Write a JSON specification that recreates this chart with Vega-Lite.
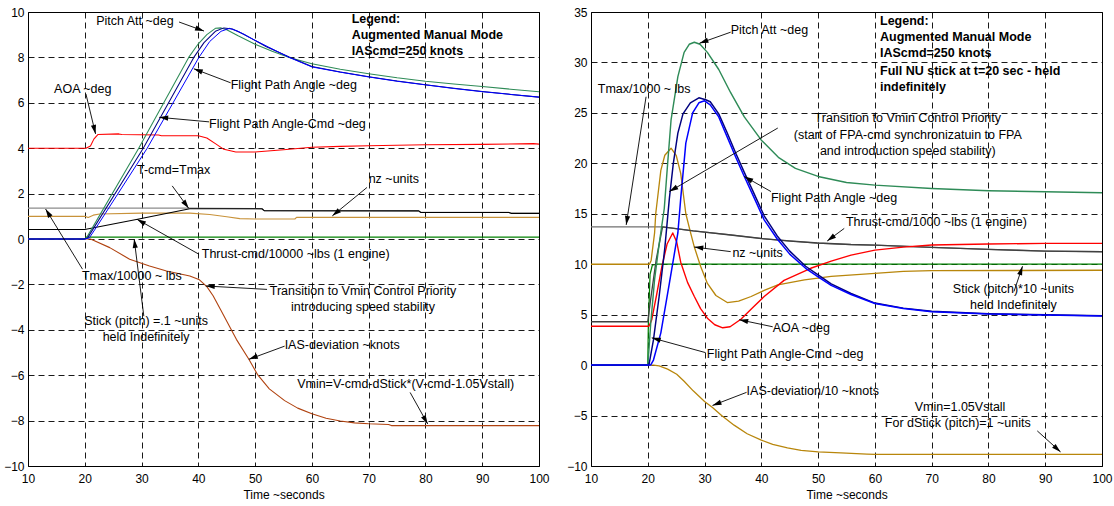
{
"$schema":"https://vega.github.io/schema/vega-lite/v6.json",
"padding":{"left":3,"top":5,"right":2,"bottom":2},
"spacing":16,
"config":{"font":"Liberation Sans","view":{"stroke":"black","strokeWidth":1},
"axis":{"grid":true,"gridColor":"black","gridDash":[6,4],"gridOpacity":1,"gridWidth":0.9,"domain":false,"ticks":false,"labelFontSize":12,"labelColor":"black","labelFont":"Liberation Sans","titleFont":"Liberation Sans","titleFontSize":12,"titleFontWeight":"normal","titleColor":"black","labelPadding":4,"labelOverlap":false,"labelFlush":false,"titlePadding":5},
"axisX":{"labelPadding":7}},
"resolve":{"scale":{"color":"independent","strokeWidth":"independent"}},
"datasets":{
"lines":[
{"p":"L","s":"a Tmax","t":10,"v":1.36},{"p":"L","s":"a Tmax","t":38.5,"v":1.36},{"p":"L","s":"a Tmax","t":50,"v":1.34},{"p":"L","s":"a Tmax","t":51.2,"v":1.33},{"p":"L","s":"a Tmax","t":51.6,"v":1.25},{"p":"L","s":"a Tmax","t":78.8,"v":1.24},{"p":"L","s":"a Tmax","t":79.2,"v":1.17},{"p":"L","s":"a Tmax","t":94.7,"v":1.17},{"p":"L","s":"a Tmax","t":95.1,"v":1.13},{"p":"L","s":"a Tmax","t":100,"v":1.13},
{"p":"L","s":"b Stick","t":10,"v":0},{"p":"L","s":"b Stick","t":20,"v":0},{"p":"L","s":"b Stick","t":20.3,"v":0.08},{"p":"L","s":"b Stick","t":100,"v":0.08},
{"p":"L","s":"c nz","t":10,"v":1.0},{"p":"L","s":"c nz","t":20,"v":1.0},{"p":"L","s":"c nz","t":20.6,"v":0.95},{"p":"L","s":"c nz","t":21.5,"v":1.05},{"p":"L","s":"c nz","t":22.6,"v":1.1},{"p":"L","s":"c nz","t":30,"v":1.14},{"p":"L","s":"c nz","t":38.5,"v":1.14},{"p":"L","s":"c nz","t":42,"v":1.08},{"p":"L","s":"c nz","t":45,"v":0.98},{"p":"L","s":"c nz","t":47.3,"v":0.9},{"p":"L","s":"c nz","t":50,"v":0.88},{"p":"L","s":"c nz","t":57,"v":0.88},{"p":"L","s":"c nz","t":57.3,"v":0.95},{"p":"L","s":"c nz","t":100,"v":0.95},
{"p":"L","s":"d Thrust","t":10,"v":0.42},{"p":"L","s":"d Thrust","t":20,"v":0.42},{"p":"L","s":"d Thrust","t":29.3,"v":0.87},{"p":"L","s":"d Thrust","t":38.5,"v":1.33},{"p":"L","s":"d Thrust","t":51.2,"v":1.33},{"p":"L","s":"d Thrust","t":51.6,"v":1.25},{"p":"L","s":"d Thrust","t":78.8,"v":1.24},{"p":"L","s":"d Thrust","t":79.2,"v":1.17},{"p":"L","s":"d Thrust","t":94.7,"v":1.17},{"p":"L","s":"d Thrust","t":95.1,"v":1.13},{"p":"L","s":"d Thrust","t":100,"v":1.13},
{"p":"L","s":"e IAS","t":10,"v":0},{"p":"L","s":"e IAS","t":21,"v":0},{"p":"L","s":"e IAS","t":21.7,"v":-0.08},{"p":"L","s":"e IAS","t":24.4,"v":-0.38},{"p":"L","s":"e IAS","t":27.9,"v":-0.89},{"p":"L","s":"e IAS","t":31.4,"v":-1.19},{"p":"L","s":"e IAS","t":34.4,"v":-1.41},{"p":"L","s":"e IAS","t":38.5,"v":-1.63},{"p":"L","s":"e IAS","t":40.2,"v":-1.8},{"p":"L","s":"e IAS","t":41.5,"v":-2.1},{"p":"L","s":"e IAS","t":42.6,"v":-2.5},{"p":"L","s":"e IAS","t":44,"v":-3.15},{"p":"L","s":"e IAS","t":45.5,"v":-3.85},{"p":"L","s":"e IAS","t":46.7,"v":-4.42},{"p":"L","s":"e IAS","t":48.9,"v":-5.3},{"p":"L","s":"e IAS","t":50.5,"v":-6.0},{"p":"L","s":"e IAS","t":52.5,"v":-6.6},{"p":"L","s":"e IAS","t":55.2,"v":-7.12},{"p":"L","s":"e IAS","t":57.5,"v":-7.45},{"p":"L","s":"e IAS","t":60,"v":-7.7},{"p":"L","s":"e IAS","t":62.5,"v":-7.9},{"p":"L","s":"e IAS","t":65,"v":-8.02},{"p":"L","s":"e IAS","t":67.5,"v":-8.1},{"p":"L","s":"e IAS","t":70,"v":-8.14},{"p":"L","s":"e IAS","t":73.5,"v":-8.17},{"p":"L","s":"e IAS","t":74,"v":-8.22},{"p":"L","s":"e IAS","t":100,"v":-8.22},
{"p":"L","s":"f AOA","t":10,"v":4.0},{"p":"L","s":"f AOA","t":20.2,"v":4.0},{"p":"L","s":"f AOA","t":21,"v":4.1},{"p":"L","s":"f AOA","t":21.6,"v":4.4},{"p":"L","s":"f AOA","t":22.3,"v":4.6},{"p":"L","s":"f AOA","t":26,"v":4.63},{"p":"L","s":"f AOA","t":26.5,"v":4.6},{"p":"L","s":"f AOA","t":33,"v":4.58},{"p":"L","s":"f AOA","t":33.5,"v":4.55},{"p":"L","s":"f AOA","t":40,"v":4.55},{"p":"L","s":"f AOA","t":41.5,"v":4.45},{"p":"L","s":"f AOA","t":43,"v":4.2},{"p":"L","s":"f AOA","t":44.5,"v":3.95},{"p":"L","s":"f AOA","t":46.6,"v":3.83},{"p":"L","s":"f AOA","t":50,"v":3.83},{"p":"L","s":"f AOA","t":55,"v":3.93},{"p":"L","s":"f AOA","t":60,"v":4.04},{"p":"L","s":"f AOA","t":65,"v":4.08},{"p":"L","s":"f AOA","t":70,"v":4.11},{"p":"L","s":"f AOA","t":75,"v":4.13},{"p":"L","s":"f AOA","t":80,"v":4.15},{"p":"L","s":"f AOA","t":90,"v":4.17},{"p":"L","s":"f AOA","t":99,"v":4.2},{"p":"L","s":"f AOA","t":100,"v":4.18},
{"p":"L","s":"g Pitch","t":10,"v":0},{"p":"L","s":"g Pitch","t":20,"v":0},{"p":"L","s":"g Pitch","t":20.3,"v":0.05},{"p":"L","s":"g Pitch","t":29.5,"v":4.0},{"p":"L","s":"g Pitch","t":38.3,"v":8.0},{"p":"L","s":"g Pitch","t":40,"v":8.6},{"p":"L","s":"g Pitch","t":41.5,"v":9.0},{"p":"L","s":"g Pitch","t":43,"v":9.28},{"p":"L","s":"g Pitch","t":44,"v":9.3},{"p":"L","s":"g Pitch","t":45,"v":9.22},{"p":"L","s":"g Pitch","t":47,"v":8.95},{"p":"L","s":"g Pitch","t":50,"v":8.58},{"p":"L","s":"g Pitch","t":53,"v":8.27},{"p":"L","s":"g Pitch","t":56,"v":8.0},{"p":"L","s":"g Pitch","t":60,"v":7.72},{"p":"L","s":"g Pitch","t":65,"v":7.48},{"p":"L","s":"g Pitch","t":70,"v":7.28},{"p":"L","s":"g Pitch","t":75,"v":7.1},{"p":"L","s":"g Pitch","t":80,"v":6.95},{"p":"L","s":"g Pitch","t":85,"v":6.83},{"p":"L","s":"g Pitch","t":90,"v":6.72},{"p":"L","s":"g Pitch","t":95,"v":6.6},{"p":"L","s":"g Pitch","t":100,"v":6.49},
{"p":"L","s":"h FPAcmd","t":10,"v":0},{"p":"L","s":"h FPAcmd","t":20,"v":0},{"p":"L","s":"h FPAcmd","t":20.5,"v":0.05},{"p":"L","s":"h FPAcmd","t":30.3,"v":4.0},{"p":"L","s":"h FPAcmd","t":39.2,"v":8.0},{"p":"L","s":"h FPAcmd","t":41,"v":8.65},{"p":"L","s":"h FPAcmd","t":43,"v":9.15},{"p":"L","s":"h FPAcmd","t":44.5,"v":9.3},{"p":"L","s":"h FPAcmd","t":46,"v":9.25},{"p":"L","s":"h FPAcmd","t":48,"v":9.02},{"p":"L","s":"h FPAcmd","t":52,"v":8.47},{"p":"L","s":"h FPAcmd","t":56,"v":8.02},{"p":"L","s":"h FPAcmd","t":60,"v":7.6},{"p":"L","s":"h FPAcmd","t":65,"v":7.36},{"p":"L","s":"h FPAcmd","t":70,"v":7.15},{"p":"L","s":"h FPAcmd","t":75,"v":6.96},{"p":"L","s":"h FPAcmd","t":80,"v":6.8},{"p":"L","s":"h FPAcmd","t":85,"v":6.64},{"p":"L","s":"h FPAcmd","t":90,"v":6.5},{"p":"L","s":"h FPAcmd","t":95,"v":6.37},{"p":"L","s":"h FPAcmd","t":100,"v":6.25},
{"p":"L","s":"i FPA","t":10,"v":0},{"p":"L","s":"i FPA","t":20,"v":0},{"p":"L","s":"i FPA","t":20.8,"v":0.05},{"p":"L","s":"i FPA","t":22,"v":0.5},{"p":"L","s":"i FPA","t":31,"v":4.0},{"p":"L","s":"i FPA","t":40.1,"v":8.0},{"p":"L","s":"i FPA","t":42,"v":8.7},{"p":"L","s":"i FPA","t":44,"v":9.15},{"p":"L","s":"i FPA","t":45.5,"v":9.28},{"p":"L","s":"i FPA","t":47,"v":9.15},{"p":"L","s":"i FPA","t":50,"v":8.75},{"p":"L","s":"i FPA","t":52.4,"v":8.45},{"p":"L","s":"i FPA","t":56,"v":8.0},{"p":"L","s":"i FPA","t":60,"v":7.58},{"p":"L","s":"i FPA","t":65,"v":7.35},{"p":"L","s":"i FPA","t":70,"v":7.14},{"p":"L","s":"i FPA","t":75,"v":6.95},{"p":"L","s":"i FPA","t":80,"v":6.79},{"p":"L","s":"i FPA","t":85,"v":6.63},{"p":"L","s":"i FPA","t":90,"v":6.49},{"p":"L","s":"i FPA","t":95,"v":6.37},{"p":"L","s":"i FPA","t":100,"v":6.25},
{"p":"R","s":"a Tmax","t":10,"v":13.7},{"p":"R","s":"a Tmax","t":22.6,"v":13.7},{"p":"R","s":"a Tmax","t":28,"v":13.3},{"p":"R","s":"a Tmax","t":34.6,"v":12.9},{"p":"R","s":"a Tmax","t":40,"v":12.55},{"p":"R","s":"a Tmax","t":45,"v":12.3},{"p":"R","s":"a Tmax","t":49.9,"v":12.1},{"p":"R","s":"a Tmax","t":55.8,"v":11.95},{"p":"R","s":"a Tmax","t":60,"v":11.9},{"p":"R","s":"a Tmax","t":70,"v":11.67},{"p":"R","s":"a Tmax","t":80,"v":11.47},{"p":"R","s":"a Tmax","t":90,"v":11.3},{"p":"R","s":"a Tmax","t":100,"v":11.24},
{"p":"R","s":"b Stick","t":10,"v":0},{"p":"R","s":"b Stick","t":20,"v":0},{"p":"R","s":"b Stick","t":20.1,"v":4},{"p":"R","s":"b Stick","t":20.4,"v":9},{"p":"R","s":"b Stick","t":20.8,"v":9.9},{"p":"R","s":"b Stick","t":21.5,"v":10},{"p":"R","s":"b Stick","t":100,"v":10},
{"p":"R","s":"c IAS","t":10,"v":0},{"p":"R","s":"c IAS","t":21,"v":0},{"p":"R","s":"c IAS","t":22,"v":-0.07},{"p":"R","s":"c IAS","t":23.5,"v":-0.4},{"p":"R","s":"c IAS","t":25.1,"v":-0.9},{"p":"R","s":"c IAS","t":26.4,"v":-1.6},{"p":"R","s":"c IAS","t":28,"v":-2.55},{"p":"R","s":"c IAS","t":30,"v":-3.6},{"p":"R","s":"c IAS","t":31.4,"v":-4.2},{"p":"R","s":"c IAS","t":33,"v":-5.0},{"p":"R","s":"c IAS","t":35.2,"v":-5.95},{"p":"R","s":"c IAS","t":37.5,"v":-6.8},{"p":"R","s":"c IAS","t":40,"v":-7.44},{"p":"R","s":"c IAS","t":42,"v":-7.85},{"p":"R","s":"c IAS","t":44.6,"v":-8.2},{"p":"R","s":"c IAS","t":47,"v":-8.45},{"p":"R","s":"c IAS","t":50,"v":-8.6},{"p":"R","s":"c IAS","t":54,"v":-8.7},{"p":"R","s":"c IAS","t":58.6,"v":-8.82},{"p":"R","s":"c IAS","t":60,"v":-8.85},{"p":"R","s":"c IAS","t":100,"v":-8.85},
{"p":"R","s":"d nz","t":10,"v":10},{"p":"R","s":"d nz","t":20.3,"v":10},{"p":"R","s":"d nz","t":20.6,"v":10.4},{"p":"R","s":"d nz","t":21.2,"v":13.1},{"p":"R","s":"d nz","t":21.4,"v":15},{"p":"R","s":"d nz","t":22.3,"v":19.3},{"p":"R","s":"d nz","t":23,"v":20.8},{"p":"R","s":"d nz","t":24.1,"v":21.5},{"p":"R","s":"d nz","t":25,"v":20.8},{"p":"R","s":"d nz","t":25.8,"v":19.0},{"p":"R","s":"d nz","t":26.7,"v":15},{"p":"R","s":"d nz","t":27.5,"v":13.2},{"p":"R","s":"d nz","t":28.2,"v":11.7},{"p":"R","s":"d nz","t":29.3,"v":9.8},{"p":"R","s":"d nz","t":30.5,"v":8.1},{"p":"R","s":"d nz","t":32,"v":6.9},{"p":"R","s":"d nz","t":34,"v":6.2},{"p":"R","s":"d nz","t":36,"v":6.35},{"p":"R","s":"d nz","t":38.2,"v":6.8},{"p":"R","s":"d nz","t":40.5,"v":7.4},{"p":"R","s":"d nz","t":42.9,"v":7.95},{"p":"R","s":"d nz","t":47.6,"v":8.45},{"p":"R","s":"d nz","t":52.3,"v":8.8},{"p":"R","s":"d nz","t":60,"v":9.1},{"p":"R","s":"d nz","t":65,"v":9.3},{"p":"R","s":"d nz","t":70,"v":9.36},{"p":"R","s":"d nz","t":100,"v":9.4},
{"p":"R","s":"e Thrust","t":10,"v":4.3},{"p":"R","s":"e Thrust","t":20,"v":4.3},{"p":"R","s":"e Thrust","t":20.5,"v":6.5},{"p":"R","s":"e Thrust","t":21.5,"v":10.5},{"p":"R","s":"e Thrust","t":22.6,"v":13.7},{"p":"R","s":"e Thrust","t":28,"v":13.3},{"p":"R","s":"e Thrust","t":34.6,"v":12.9},{"p":"R","s":"e Thrust","t":40,"v":12.55},{"p":"R","s":"e Thrust","t":45,"v":12.3},{"p":"R","s":"e Thrust","t":49.9,"v":12.1},{"p":"R","s":"e Thrust","t":55.8,"v":11.95},{"p":"R","s":"e Thrust","t":60,"v":11.9},{"p":"R","s":"e Thrust","t":70,"v":11.67},{"p":"R","s":"e Thrust","t":80,"v":11.47},{"p":"R","s":"e Thrust","t":90,"v":11.3},{"p":"R","s":"e Thrust","t":100,"v":11.24},
{"p":"R","s":"f AOA","t":10,"v":3.85},{"p":"R","s":"f AOA","t":20.2,"v":3.85},{"p":"R","s":"f AOA","t":20.7,"v":4.5},{"p":"R","s":"f AOA","t":21.5,"v":6.8},{"p":"R","s":"f AOA","t":22.5,"v":9.8},{"p":"R","s":"f AOA","t":23.4,"v":12.0},{"p":"R","s":"f AOA","t":24.4,"v":13.1},{"p":"R","s":"f AOA","t":25.1,"v":12.2},{"p":"R","s":"f AOA","t":25.8,"v":10.2},{"p":"R","s":"f AOA","t":27,"v":8.2},{"p":"R","s":"f AOA","t":28.2,"v":6.8},{"p":"R","s":"f AOA","t":29.3,"v":5.6},{"p":"R","s":"f AOA","t":30.5,"v":4.65},{"p":"R","s":"f AOA","t":31.8,"v":4.0},{"p":"R","s":"f AOA","t":33.2,"v":3.7},{"p":"R","s":"f AOA","t":34.5,"v":3.8},{"p":"R","s":"f AOA","t":36.4,"v":4.55},{"p":"R","s":"f AOA","t":38.5,"v":5.7},{"p":"R","s":"f AOA","t":40.5,"v":6.8},{"p":"R","s":"f AOA","t":44,"v":8.4},{"p":"R","s":"f AOA","t":48.7,"v":9.6},{"p":"R","s":"f AOA","t":52.3,"v":10.3},{"p":"R","s":"f AOA","t":55.8,"v":10.9},{"p":"R","s":"f AOA","t":60,"v":11.4},{"p":"R","s":"f AOA","t":65,"v":11.7},{"p":"R","s":"f AOA","t":70,"v":11.9},{"p":"R","s":"f AOA","t":80,"v":12.0},{"p":"R","s":"f AOA","t":90,"v":12.07},{"p":"R","s":"f AOA","t":100,"v":12.07},
{"p":"R","s":"g Pitch","t":10,"v":0},{"p":"R","s":"g Pitch","t":20,"v":0},{"p":"R","s":"g Pitch","t":20.2,"v":1.5},{"p":"R","s":"g Pitch","t":20.5,"v":4},{"p":"R","s":"g Pitch","t":21.2,"v":8.5},{"p":"R","s":"g Pitch","t":22,"v":12},{"p":"R","s":"g Pitch","t":22.9,"v":15.5},{"p":"R","s":"g Pitch","t":23.5,"v":20},{"p":"R","s":"g Pitch","t":24.1,"v":24.3},{"p":"R","s":"g Pitch","t":25.3,"v":28.6},{"p":"R","s":"g Pitch","t":26.4,"v":31.0},{"p":"R","s":"g Pitch","t":27.3,"v":31.8},{"p":"R","s":"g Pitch","t":28.2,"v":32.0},{"p":"R","s":"g Pitch","t":29.2,"v":31.8},{"p":"R","s":"g Pitch","t":30.5,"v":31.0},{"p":"R","s":"g Pitch","t":32.5,"v":29.3},{"p":"R","s":"g Pitch","t":34.6,"v":27.0},{"p":"R","s":"g Pitch","t":37,"v":24.6},{"p":"R","s":"g Pitch","t":40,"v":22.3},{"p":"R","s":"g Pitch","t":43,"v":20.6},{"p":"R","s":"g Pitch","t":46,"v":19.5},{"p":"R","s":"g Pitch","t":50,"v":18.7},{"p":"R","s":"g Pitch","t":55,"v":18.1},{"p":"R","s":"g Pitch","t":60,"v":17.84},{"p":"R","s":"g Pitch","t":70,"v":17.5},{"p":"R","s":"g Pitch","t":80,"v":17.28},{"p":"R","s":"g Pitch","t":90,"v":17.18},{"p":"R","s":"g Pitch","t":100,"v":17.08},
{"p":"R","s":"h FPAcmd","t":10,"v":0},{"p":"R","s":"h FPAcmd","t":20.2,"v":0},{"p":"R","s":"h FPAcmd","t":21,"v":2.5},{"p":"R","s":"h FPAcmd","t":22,"v":6.8},{"p":"R","s":"h FPAcmd","t":23,"v":11.6},{"p":"R","s":"h FPAcmd","t":23.8,"v":16.5},{"p":"R","s":"h FPAcmd","t":24.5,"v":20},{"p":"R","s":"h FPAcmd","t":25.3,"v":23.0},{"p":"R","s":"h FPAcmd","t":26.2,"v":24.9},{"p":"R","s":"h FPAcmd","t":27.5,"v":26.0},{"p":"R","s":"h FPAcmd","t":29,"v":26.5},{"p":"R","s":"h FPAcmd","t":30.2,"v":26.3},{"p":"R","s":"h FPAcmd","t":31,"v":26.1},{"p":"R","s":"h FPAcmd","t":32.5,"v":24.9},{"p":"R","s":"h FPAcmd","t":34,"v":23.0},{"p":"R","s":"h FPAcmd","t":35.5,"v":21.0},{"p":"R","s":"h FPAcmd","t":37,"v":19.1},{"p":"R","s":"h FPAcmd","t":38.8,"v":16.9},{"p":"R","s":"h FPAcmd","t":40.5,"v":14.8},{"p":"R","s":"h FPAcmd","t":42.8,"v":12.8},{"p":"R","s":"h FPAcmd","t":45,"v":11.3},{"p":"R","s":"h FPAcmd","t":47.8,"v":9.8},{"p":"R","s":"h FPAcmd","t":50,"v":8.95},{"p":"R","s":"h FPAcmd","t":52.3,"v":8.05},{"p":"R","s":"h FPAcmd","t":55.8,"v":7.1},{"p":"R","s":"h FPAcmd","t":60,"v":6.15},{"p":"R","s":"h FPAcmd","t":65,"v":5.65},{"p":"R","s":"h FPAcmd","t":70,"v":5.33},{"p":"R","s":"h FPAcmd","t":80,"v":5.1},{"p":"R","s":"h FPAcmd","t":90,"v":4.99},{"p":"R","s":"h FPAcmd","t":100,"v":4.89},
{"p":"R","s":"i FPA","t":10,"v":0},{"p":"R","s":"i FPA","t":20.5,"v":0},{"p":"R","s":"i FPA","t":21,"v":0.5},{"p":"R","s":"i FPA","t":22.3,"v":3.2},{"p":"R","s":"i FPA","t":23.8,"v":8.1},{"p":"R","s":"i FPA","t":25.3,"v":13.1},{"p":"R","s":"i FPA","t":25.8,"v":16.5},{"p":"R","s":"i FPA","t":26.7,"v":22.0},{"p":"R","s":"i FPA","t":27.9,"v":25.0},{"p":"R","s":"i FPA","t":29,"v":26.0},{"p":"R","s":"i FPA","t":30,"v":26.2},{"p":"R","s":"i FPA","t":31,"v":25.8},{"p":"R","s":"i FPA","t":32.5,"v":24.6},{"p":"R","s":"i FPA","t":34,"v":22.6},{"p":"R","s":"i FPA","t":35.5,"v":20.6},{"p":"R","s":"i FPA","t":37,"v":18.7},{"p":"R","s":"i FPA","t":38.8,"v":16.5},{"p":"R","s":"i FPA","t":40.5,"v":14.4},{"p":"R","s":"i FPA","t":42.8,"v":12.5},{"p":"R","s":"i FPA","t":45,"v":11.0},{"p":"R","s":"i FPA","t":47.8,"v":9.6},{"p":"R","s":"i FPA","t":50,"v":8.75},{"p":"R","s":"i FPA","t":52.3,"v":7.9},{"p":"R","s":"i FPA","t":55.8,"v":7.0},{"p":"R","s":"i FPA","t":60,"v":6.1},{"p":"R","s":"i FPA","t":65,"v":5.6},{"p":"R","s":"i FPA","t":70,"v":5.3},{"p":"R","s":"i FPA","t":80,"v":5.07},{"p":"R","s":"i FPA","t":90,"v":4.97},{"p":"R","s":"i FPA","t":100,"v":4.87}
],
"arrows":[
{"p":"L","t":36.6,"v":9.56,"t2":41.0,"v2":9.16},
{"p":"L","t":45.7,"v":6.88,"t2":39.2,"v2":7.5},
{"p":"L","t":20.2,"v":6.39,"t2":21.9,"v2":4.63},
{"p":"L","t":41.9,"v":5.16,"t2":33.1,"v2":5.36},
{"p":"L","t":35.4,"v":2.34,"t2":38.3,"v2":1.35},
{"p":"L","t":69.7,"v":2.27,"t2":63.6,"v2":1.02},
{"p":"L","t":40.1,"v":-0.67,"t2":29.2,"v2":0.87},
{"p":"L","t":19.6,"v":-1.33,"t2":13.1,"v2":1.32},
{"p":"L","t":30.4,"v":-3.4,"t2":28.7,"v2":0.0},
{"p":"L","t":52.1,"v":-2.22,"t2":41.3,"v2":-2.07},
{"p":"L","t":55.2,"v":-4.72,"t2":48.9,"v2":-5.3},
{"p":"L","t":77.3,"v":-6.76,"t2":80.4,"v2":-8.15},
{"p":"R","t":34.6,"v":33.0,"t2":29.1,"v2":31.9},
{"p":"R","t":19.7,"v":26.6,"t2":16.2,"v2":13.9},
{"p":"R","t":42.9,"v":23.5,"t2":23.8,"v2":17.2},
{"p":"R","t":41.7,"v":17.2,"t2":37,"v2":18.7},
{"p":"R","t":54.6,"v":13.55,"t2":51.6,"v2":12.3},
{"p":"R","t":34.6,"v":11.25,"t2":28.2,"v2":11.7},
{"p":"R","t":42,"v":3.8,"t2":36.1,"v2":4.5},
{"p":"R","t":30.1,"v":1.25,"t2":20.7,"v2":2.7},
{"p":"R","t":37.4,"v":-2.7,"t2":31.4,"v2":-4.0},
{"p":"R","t":88.6,"v":-6.52,"t2":92.7,"v2":-8.6},
{"p":"R","t":84.5,"v":7.3,"t2":86,"v2":9.8}
],
"notes":[
{"p":"L","t":22.0,"v":9.59,"label":"Pitch Att ~deg"},
{"p":"L","t":45.7,"v":6.77,"label":"Flight Path Angle ~deg"},
{"p":"L","t":14.6,"v":6.61,"label":"AOA ~deg"},
{"p":"L","t":41.9,"v":5.07,"label":"Flight Path Angle-Cmd ~deg"},
{"p":"L","t":29.2,"v":3.04,"label":"T-cmd=Tmax"},
{"p":"L","t":70.0,"v":2.64,"label":"nz ~units"},
{"p":"L","t":40.6,"v":-0.67,"label":"Thrust-cmd/10000 ~lbs (1 engine)"},
{"p":"L","t":19.5,"v":-1.63,"label":"Tmax/10000 ~ lbs"},
{"p":"L","t":55.2,"v":-4.65,"label":"IAS-deviation ~knots"},
{"p":"L","t":57.4,"v":-6.39,"label":"Vmin=V-cmd-dStick*(V-cmd-1.05Vstall)"},
{"p":"R","t":34.6,"v":33.19,"label":"Pitch Att ~deg"},
{"p":"R","t":11.2,"v":27.4,"label":"Tmax/1000 ~ lbs"},
{"p":"R","t":41.7,"v":16.55,"label":"Flight Path Angle ~deg"},
{"p":"R","t":54.9,"v":14.2,"label":"Thrust-cmd/1000 ~lbs (1 engine)"},
{"p":"R","t":34.9,"v":11.08,"label":"nz ~units"},
{"p":"R","t":42.0,"v":3.65,"label":"AOA ~deg"},
{"p":"R","t":30.4,"v":1.08,"label":"Flight Path Angle-Cmd ~deg"},
{"p":"R","t":37.4,"v":-2.52,"label":"IAS-deviation/10 ~knots"}
],
"cnotes":[
{"p":"L","t":30.8,"v":-3.63,"label":"Stick (pitch) =.1 ~units"},
{"p":"L","t":30.8,"v":-4.33,"label":"held Indefinitely"},
{"p":"L","t":69.0,"v":-2.31,"label":"Transition to Vmin Control Priority"},
{"p":"L","t":69.0,"v":-2.98,"label":"introducing speed stability"},
{"p":"R","t":65.8,"v":24.48,"label":"Transition to Vmin Control Priority"},
{"p":"R","t":65.8,"v":22.84,"label":"(start of FPA-cmd synchronizatuin to FPA"},
{"p":"R","t":65.8,"v":21.2,"label":"and introduction speed stability)"},
{"p":"R","t":75.0,"v":-4.16,"label":"Vmin=1.05Vstall"},
{"p":"R","t":74.6,"v":-5.7,"label":"For dStick (pitch)=1 ~units"},
{"p":"R","t":84.4,"v":7.54,"label":"Stick (pitch)*10 ~units"},
{"p":"R","t":84.4,"v":5.96,"label":"held Indefinitely"}
],
"legend":[
{"p":"L","t":67.0,"v":9.67,"label":"Legend:"},
{"p":"L","t":67.0,"v":8.98,"label":"Augmented Manual Mode"},
{"p":"L","t":67.0,"v":8.29,"label":"IAScmd=250 knots"},
{"p":"R","t":60.9,"v":34.08,"label":"Legend:"},
{"p":"R","t":60.9,"v":32.5,"label":"Augmented Manual Mode"},
{"p":"R","t":60.9,"v":30.9,"label":"IAScmd=250 knots"},
{"p":"R","t":60.9,"v":29.2,"label":"Full NU stick at t=20 sec - held"},
{"p":"R","t":60.9,"v":27.6,"label":"indefinitely"}
]
},
"hconcat":[
{"width":511,"height":454,
"encoding":{
"x":{"field":"t","type":"quantitative","scale":{"domain":[10,100],"nice":false,"zero":false},"axis":{"values":[10,20,30,40,50,60,70,80,90,100]},"title":"Time ~seconds"},
"y":{"field":"v","type":"quantitative","scale":{"domain":[-10,10],"nice":false,"zero":false},"axis":{"values":[-10,-8,-6,-4,-2,0,2,4,6,8,10]},"title":null}},
"layer":[
{"data":{"name":"lines"},"transform":[{"filter":"datum.p=='L'"}],"mark":{"type":"line","strokeJoin":"round","clip":true},
"encoding":{
"color":{"field":"s","type":"nominal","legend":null,"scale":{"domain":["a Tmax","b Stick","c nz","d Thrust","e IAS","f AOA","g Pitch","h FPAcmd","i FPA"],"range":["#8c8c8c","#008000","#c8923a","#000000","#b0420f","#ff0000","#2e8b57","#00007f","#0000ff"]}},
"strokeWidth":{"field":"s","type":"nominal","legend":null,"scale":{"domain":["a Tmax","b Stick","c nz","d Thrust","e IAS","f AOA","g Pitch","h FPAcmd","i FPA"],"range":[1.2,1,1.3,2.5,2,2.2,1,1,2.5]}}}},
{"data":{"name":"arrows"},"transform":[{"filter":"datum.p=='L'"}],"mark":{"type":"rule","color":"black","strokeWidth":0.9},
"encoding":{"x2":{"field":"t2"},"y2":{"field":"v2"}}},
{"data":{"name":"arrows"},"transform":[{"filter":"datum.p=='L'"},{"calculate":"atan2((datum.t2-datum.t)*5.678,(datum.v2-datum.v)*22.7)*180/PI","as":"ang"}],
"mark":{"type":"point","shape":"M0,0L-1.3,4.5L1.3,4.5Z","filled":true,"color":"black","opacity":1,"size":16},
"encoding":{"x":{"field":"t2","type":"quantitative","title":"Time ~seconds"},"y":{"field":"v2","type":"quantitative","title":null},"angle":{"field":"ang","type":"quantitative","scale":null}}},
{"data":{"name":"notes"},"transform":[{"filter":"datum.p=='L'"}],"mark":{"type":"text","align":"left","baseline":"middle","fontSize":12.5,"font":"Liberation Sans","color":"black"},
"encoding":{"text":{"field":"label"}}},
{"data":{"name":"cnotes"},"transform":[{"filter":"datum.p=='L'"}],"mark":{"type":"text","align":"center","baseline":"middle","fontSize":12.5,"font":"Liberation Sans","color":"black"},
"encoding":{"text":{"field":"label"}}},
{"data":{"name":"legend"},"transform":[{"filter":"datum.p=='L'"}],"mark":{"type":"text","align":"left","baseline":"middle","fontSize":12.5,"fontWeight":"bold","font":"Liberation Sans","color":"black"},
"encoding":{"text":{"field":"label"}}}
]},
{"width":511,"height":454,
"encoding":{
"x":{"field":"t","type":"quantitative","scale":{"domain":[10,100],"nice":false,"zero":false},"axis":{"values":[10,20,30,40,50,60,70,80,90,100]},"title":"Time ~seconds"},
"y":{"field":"v","type":"quantitative","scale":{"domain":[-10,35],"nice":false,"zero":false},"axis":{"values":[-10,-5,0,5,10,15,20,25,30,35]},"title":null}},
"layer":[
{"data":{"name":"lines"},"transform":[{"filter":"datum.p=='R'"}],"mark":{"type":"line","strokeJoin":"round","clip":true},
"encoding":{
"color":{"field":"s","type":"nominal","legend":null,"scale":{"domain":["a Tmax","b Stick","c IAS","d nz","e Thrust","f AOA","g Pitch","h FPAcmd","i FPA"],"range":["#707070","#008000","#b8860b","#b8860b","#404040","#ff0000","#2e8b57","#00007f","#0000ff"]}},
"strokeWidth":{"field":"s","type":"nominal","legend":null,"scale":{"domain":["a Tmax","b Stick","c IAS","d nz","e Thrust","f AOA","g Pitch","h FPAcmd","i FPA"],"range":[1.2,1.5,2,2,2,2,2,1.2,2]}}}},
{"data":{"name":"arrows"},"transform":[{"filter":"datum.p=='R'"}],"mark":{"type":"rule","color":"black","strokeWidth":0.9},
"encoding":{"x2":{"field":"t2"},"y2":{"field":"v2"}}},
{"data":{"name":"arrows"},"transform":[{"filter":"datum.p=='R'"},{"calculate":"atan2((datum.t2-datum.t)*5.678,(datum.v2-datum.v)*10.09)*180/PI","as":"ang"}],
"mark":{"type":"point","shape":"M0,0L-1.3,4.5L1.3,4.5Z","filled":true,"color":"black","opacity":1,"size":16},
"encoding":{"x":{"field":"t2","type":"quantitative","title":"Time ~seconds"},"y":{"field":"v2","type":"quantitative","title":null},"angle":{"field":"ang","type":"quantitative","scale":null}}},
{"data":{"name":"notes"},"transform":[{"filter":"datum.p=='R'"}],"mark":{"type":"text","align":"left","baseline":"middle","fontSize":12.5,"font":"Liberation Sans","color":"black"},
"encoding":{"text":{"field":"label"}}},
{"data":{"name":"cnotes"},"transform":[{"filter":"datum.p=='R'"}],"mark":{"type":"text","align":"center","baseline":"middle","fontSize":12.5,"font":"Liberation Sans","color":"black"},
"encoding":{"text":{"field":"label"}}},
{"data":{"name":"legend"},"transform":[{"filter":"datum.p=='R'"}],"mark":{"type":"text","align":"left","baseline":"middle","fontSize":12.5,"fontWeight":"bold","font":"Liberation Sans","color":"black"},
"encoding":{"text":{"field":"label"}}}
]}
]
}
